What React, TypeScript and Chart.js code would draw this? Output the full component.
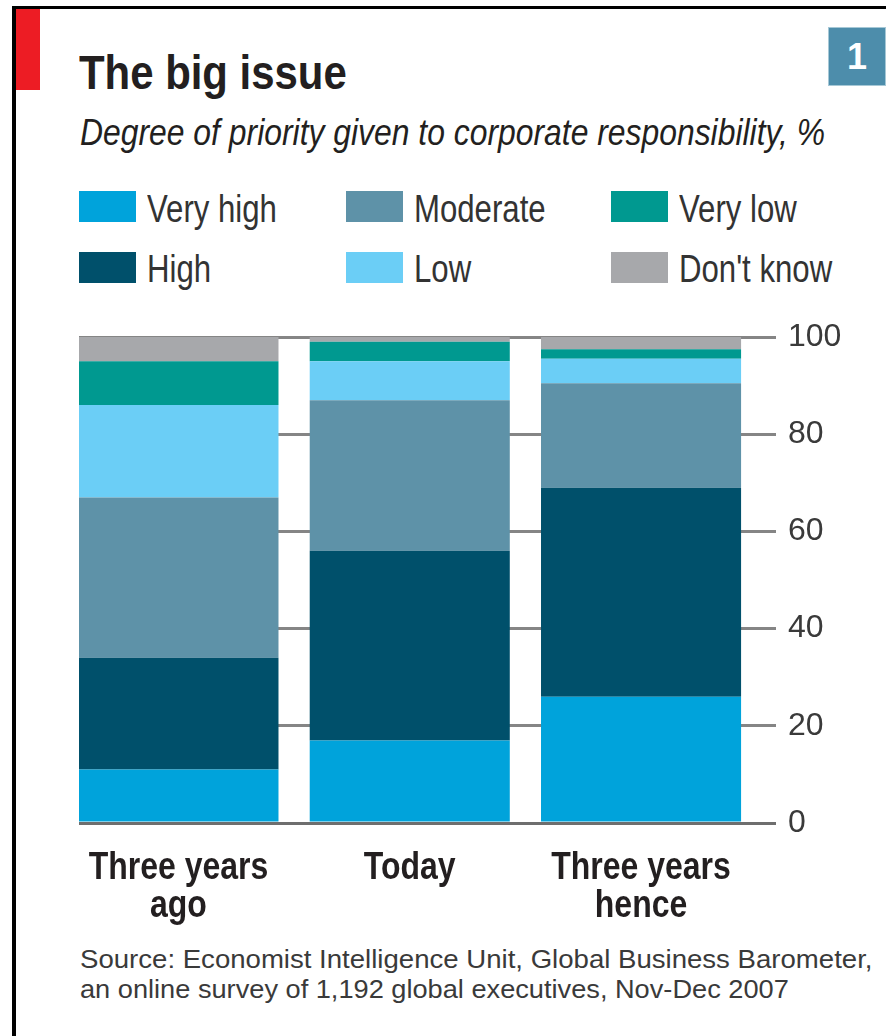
import React, { useEffect, useLayoutEffect, useRef, useState } from "react";
import { Chart, registerables } from "chart.js";

Chart.register(...registerables);

// ---------- data ----------
const categories = ["Three years ago", "Today", "Three years hence"];
const categoryLines = [["Three years", "ago"], ["Today"], ["Three years", "hence"]];
const seriesLabels = ["Very high", "High", "Moderate", "Low", "Very low", "Don't know"];
const veryHigh = [11, 17, 26];
const high = [23, 39, 43];
const moderate = [33, 31, 21.5];
const low = [19, 8, 5];
const veryLow = [9, 4, 2];
const dontKnow = [5, 1, 2.5];
const yTicks = [0, 20, 40, 60, 80, 100];

// ---------- style ----------
const seriesColors = ["#00a3db", "#00506b", "#5e92a8", "#6bcef6", "#009990", "#a7a8ab"];
const SANS = '"Liberation Sans", Arial, sans-serif';
const CONDENSE = 0.82; // emulate a narrow face (no narrow font installed)

type FitProps = {
  text: string;
  left: number;
  baseline: number;
  width?: number;
  scale?: number;
  size: number;
  weight?: number | string;
  italic?: boolean;
  color?: string;
};

function FitText({ text, left, baseline, width, scale, size, weight = 400, italic = false, color = "#231f20" }: FitProps) {
  const ref = useRef<HTMLSpanElement>(null);
  const [k, setK] = useState(scale ?? 1);
  useLayoutEffect(() => {
    const el = ref.current;
    if (!el || !width) return;
    const w = el.offsetWidth;
    if (w > 0) setK(width / w);
  }, [text, width, size]);
  return (
    <span
      ref={ref}
      style={{
        position: "absolute",
        left,
        top: baseline - 0.8465 * size,
        fontFamily: SANS,
        fontSize: size,
        lineHeight: `${size}px`,
        fontWeight: weight as any,
        fontStyle: italic ? "italic" : "normal",
        color,
        whiteSpace: "nowrap",
        display: "inline-block",
        transform: `scaleX(${k})`,
        transformOrigin: "0 0",
      }}
    >
      {text}
    </span>
  );
}

// draws an axis' labels horizontally condensed around their own anchor
function condenseLabels(scale: any, k: number) {
  if (scale.__condensed) return;
  scale.__condensed = true;
  const orig = scale.drawLabels.bind(scale);
  scale.drawLabels = (area: any) => {
    const ctx = scale.ctx as CanvasRenderingContext2D;
    const fill = CanvasRenderingContext2D.prototype.fillText;
    (ctx as any).fillText = function (text: string, x: number, y: number, maxW?: number) {
      this.save();
      this.translate(x, y);
      this.scale(k, 1);
      if (maxW === undefined) fill.call(this, text, 0, 0);
      else fill.call(this, text, 0, 0, maxW);
      this.restore();
    };
    try {
      orig(area);
    } finally {
      delete (ctx as any).fillText;
    }
  };
}

const condensePlugin = {
  id: "condenseX",
  beforeDraw(chart: any) {
    if (chart.scales.x) condenseLabels(chart.scales.x, CONDENSE);
  },
};

function StackedChart() {
  const ref = useRef<HTMLCanvasElement>(null);
  useEffect(() => {
    const series = [veryHigh, high, moderate, low, veryLow, dontKnow];
    const chart = new Chart(ref.current as HTMLCanvasElement, {
      type: "bar",
      data: {
        datasets: series.map((vals, s) => ({
          label: seriesLabels[s],
          data: vals.map((v, i) => ({ x: i, y: v })),
          backgroundColor: seriesColors[s],
          borderWidth: 0,
          barPercentage: 0.865,
          categoryPercentage: 1,
        })),
      } as any,
      plugins: [condensePlugin],
      options: {
        animation: false,
        responsive: false,
        devicePixelRatio: 1,
        layout: { padding: { left: 79, top: 37, right: 0, bottom: 0 } },
        plugins: { legend: { display: false }, tooltip: { enabled: false } },
        scales: {
          x: {
            type: "linear",
            offset: false,
            stacked: true,
            min: -0.43,
            max: 2.497,
            afterBuildTicks: (s: any) => {
              s.ticks = categories.map((_, i) => ({ value: i }));
            },
            afterFit: (s: any) => {
              s.height = 117;
            },
            grid: { display: false, drawTicks: false, offset: false },
            border: { display: false },
            ticks: {
              autoSkip: false,
              maxRotation: 0,
              minRotation: 0,
              padding: 26,
              color: "#231f20",
              font: { family: SANS, size: 39, weight: "bold", lineHeight: 38 / 39 },
              callback: (v: any) => categoryLines[v as number] ?? "",
            },
          },
          y: {
            position: "right",
            stacked: true,
            min: 0,
            max: 100,
            afterBuildTicks: (s: any) => {
              s.ticks = yTicks.map((v) => ({ value: v }));
            },
            afterFit: (s: any) => {
              s.width = 130;
            },
            grid: {
              color: (ctx: any) => (ctx.tick && ctx.tick.value === 0 ? "#6e6e6e" : "#858585"),
              lineWidth: 3,
              tickLength: 20,
              drawTicks: true,
            },
            border: { display: false },
            ticks: {
              padding: 12,
              color: "#3a3a3a",
              font: { family: SANS, size: 32 },
            },
          },
        },
      } as any,
    });
    return () => chart.destroy();
  }, []);
  return (
    <canvas
      ref={ref}
      width={886}
      height={640}
      style={{ position: "absolute", left: 0, top: 300, width: 886, height: 640 }}
    />
  );
}

const legendCols = [79, 346, 611];
const legendSwatchTop = [191, 252];
const legendBaseline = [222, 282];

export default function App() {
  return (
    <div style={{ position: "absolute", left: 0, top: 0, width: 886, height: 1036, background: "#fff", overflow: "hidden" }}>
      <div style={{ position: "absolute", left: 12, top: 6, width: 874, height: 3, background: "#000" }} />
      <div style={{ position: "absolute", left: 12, top: 6, width: 4, height: 1030, background: "#000" }} />
      <div style={{ position: "absolute", left: 16, top: 9, width: 24, height: 81, background: "#ed1c24" }} />
      <div
        style={{
          position: "absolute",
          left: 828,
          top: 27,
          width: 58,
          height: 59,
          boxSizing: "border-box",
          background: "#4d8dab",
          border: "1px solid #a6c8d6",
          color: "#fff",
          fontFamily: SANS,
          fontWeight: 700,
          fontSize: 36,
          lineHeight: "57px",
          textAlign: "center",
        }}
      >
        1
      </div>

      <FitText text="The big issue" left={79} baseline={90} width={268} size={48} weight={700} />
      <FitText
        text="Degree of priority given to corporate responsibility, %"
        left={80}
        baseline={145}
        width={745}
        size={37}
        italic
      />

      {seriesLabels.map((label, i) => {
        const col = Math.floor(i / 2);
        const row = i % 2;
        return (
          <React.Fragment key={label}>
            <div
              style={{
                position: "absolute",
                left: legendCols[col],
                top: legendSwatchTop[row],
                width: 57,
                height: 31,
                background: seriesColors[i],
              }}
            />
            <FitText
              text={label}
              left={legendCols[col] + 68}
              baseline={legendBaseline[row]}
              size={38}
              scale={CONDENSE}
              color="#333"
            />
          </React.Fragment>
        );
      })}

      <StackedChart />

      <FitText
        text="Source: Economist Intelligence Unit, Global Business Barometer,"
        left={80}
        baseline={968}
        width={792}
        size={25}
        color="#3a3a3a"
      />
      <FitText
        text="an online survey of 1,192 global executives, Nov-Dec 2007"
        left={80}
        baseline={998}
        width={709}
        size={25}
        color="#3a3a3a"
      />
    </div>
  );
}
